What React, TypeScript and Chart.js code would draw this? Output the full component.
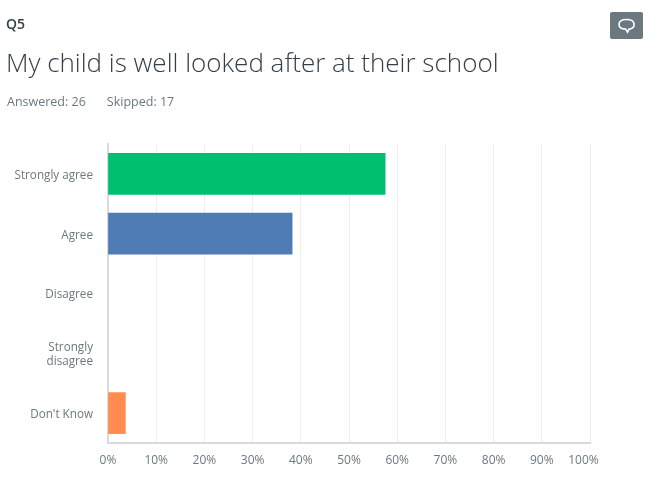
import React, { useEffect, useRef } from "react";
import { Chart, registerables } from "chart.js";

Chart.register(...registerables);

const categories: (string | string[])[] = ["Strongly agree", "Agree", "Disagree", ["Strongly", "disagree"], "Don't Know"];
const values = [57.5, 38.2, 0, 0, 3.6];
const barColors = ["#00BF6F", "#507CB6", "transparent", "transparent", "#FF8B4F"];
const FONT = "'Open Sans', sans-serif";

const nudgeLabels = {
  id: "nudgeLabels",
  beforeDraw(chart: any) {
    const xItems = chart.scales.x.getLabelItems();
    const last = xItems[xItems.length - 1];
    if (last && !last.__moved) {
      last.options.translation[0] -= 6.5;
      last.__moved = true;
    }
    for (const item of chart.scales.y.getLabelItems()) {
      if (!item.__moved) {
        item.options.translation[1] += 1.5;
        item.__moved = true;
      }
    }
  },
};

export default function App() {
  const ref = useRef<HTMLCanvasElement>(null);
  useEffect(() => {
    const chart = new Chart(ref.current!, {
      type: "bar",
      data: {
        labels: categories as any,
        datasets: [{ data: values, backgroundColor: barColors, barThickness: 41 }],
      },
      plugins: [nudgeLabels],
      options: {
        indexAxis: "y",
        animation: false,
        responsive: false,
        layout: { padding: { top: 144, right: 68, bottom: 10, left: 0 } },
        plugins: { legend: { display: false }, title: { display: false }, tooltip: { enabled: false } },
        scales: {
          x: {
            min: 0,
            max: 100,
            afterFit: (s: any) => { s.height = 40; },
            grid: { color: "#EEEEEE", drawTicks: false },
            border: { color: "#DADADA", width: 2 },
            ticks: {
              stepSize: 10,
              padding: 10,
              color: "#6B787F",
              maxRotation: 0,
              autoSkip: false,
              font: { family: FONT, size: 12 },
              callback: (v: any) => v + "%",
            },
          },
          y: {
            afterFit: (s: any) => { s.width = 108; },
            grid: { display: false, drawTicks: false },
            border: { color: "#DADADA", width: 2 },
            ticks: {
              padding: 15,
              color: "#6B787F",
              autoSkip: false,
              font: { family: FONT, size: 11.7, lineHeight: 1.25 },
            },
          },
        },
      },
    });
    return () => chart.destroy();
  }, []);

  return (
    <div style={{ position: "fixed", left: 0, top: 0, width: 658, height: 493, background: "#fff", overflow: "hidden" }}>
      <canvas ref={ref} width={658} height={493} style={{ position: "absolute", left: 0, top: 0 }} />
      <div style={{ position: "absolute", left: 6, top: 14, fontFamily: FONT, fontSize: 14, fontWeight: 600, color: "#333E48", lineHeight: "20px" }}>Q5</div>
      <div style={{ position: "absolute", left: 6, top: 44, fontFamily: FONT, fontSize: 26, fontWeight: 300, color: "#333E48", lineHeight: "36px", whiteSpace: "nowrap" }}>
        My child is well looked after at their school
      </div>
      <div style={{ position: "absolute", left: 7, top: 93, fontFamily: FONT, fontSize: 12.5, color: "#6B787F", lineHeight: "18px", whiteSpace: "nowrap" }}>
        Answered: 26
        <span style={{ marginLeft: 21 }}>Skipped: 17</span>
      </div>
      <svg width={33} height={27} viewBox="0 0 33 27" style={{ position: "absolute", left: 610, top: 12 }}>
        <rect x={0} y={0} width={33} height={27} rx={2} fill="#6B787F" />
        <path d="M16.5 7.5c4.6 0 7.6 1.9 7.6 4.9 0 2.6-2.3 4.3-5 4.7l-1.6 3.1-1.9-3.1c-3.7-.2-6.6-1.9-6.6-4.7 0-3 3-4.9 7.5-4.9z" fill="none" stroke="#fff" strokeWidth={1.6} />
      </svg>
    </div>
  );
}
